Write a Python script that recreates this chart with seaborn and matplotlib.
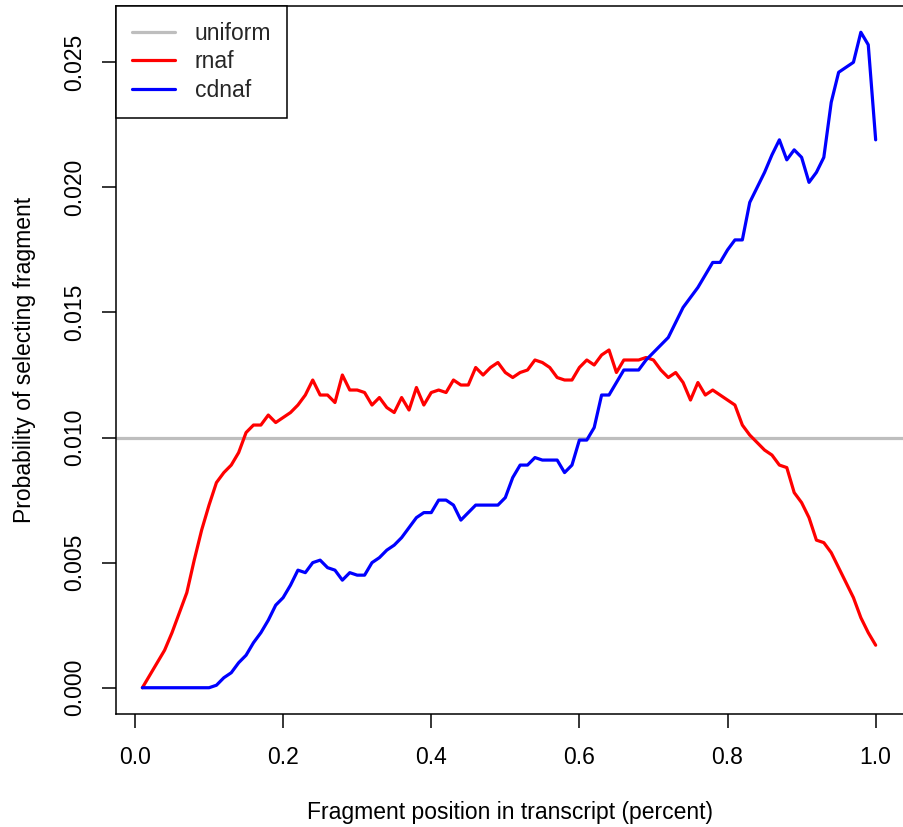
import numpy as np
import pandas as pd
import matplotlib
matplotlib.use("Agg")
import matplotlib.pyplot as plt
from matplotlib.lines import Line2D
import seaborn as sns

# ---- data ----
position = [i / 100 for i in range(1, 101)]
rnaf = [0.0000, 0.0005, 0.0010, 0.0015, 0.0022, 0.0030, 0.0038, 0.0051, 0.0063, 0.0073,
        0.0082, 0.0086, 0.0089, 0.0094, 0.0102, 0.0105, 0.0105, 0.0109, 0.0106, 0.0108,
        0.0110, 0.0113, 0.0117, 0.0123, 0.0117, 0.0117, 0.0114, 0.0125, 0.0119, 0.0119,
        0.0118, 0.0113, 0.0116, 0.0112, 0.0110, 0.0116, 0.0111, 0.0120, 0.0113, 0.0118,
        0.0119, 0.0118, 0.0123, 0.0121, 0.0121, 0.0128, 0.0125, 0.0128, 0.0130, 0.0126,
        0.0124, 0.0126, 0.0127, 0.0131, 0.0130, 0.0128, 0.0124, 0.0123, 0.0123, 0.0128,
        0.0131, 0.0129, 0.0133, 0.0135, 0.0126, 0.0131, 0.0131, 0.0131, 0.0132, 0.0131,
        0.0127, 0.0124, 0.0126, 0.0122, 0.0115, 0.0122, 0.0117, 0.0119, 0.0117, 0.0115,
        0.0113, 0.0105, 0.0101, 0.0098, 0.0095, 0.0093, 0.0089, 0.0088, 0.0078, 0.0074,
        0.0068, 0.0059, 0.0058, 0.0054, 0.0048, 0.0042, 0.0036, 0.0028, 0.0022, 0.0017]
cdnaf = [0.0000, 0.0000, 0.0000, 0.0000, 0.0000, 0.0000, 0.0000, 0.0000, 0.0000, 0.0000,
         0.0001, 0.0004, 0.0006, 0.0010, 0.0013, 0.0018, 0.0022, 0.0027, 0.0033, 0.0036,
         0.0041, 0.0047, 0.0046, 0.0050, 0.0051, 0.0048, 0.0047, 0.0043, 0.0046, 0.0045,
         0.0045, 0.0050, 0.0052, 0.0055, 0.0057, 0.0060, 0.0064, 0.0068, 0.0070, 0.0070,
         0.0075, 0.0075, 0.0073, 0.0067, 0.0070, 0.0073, 0.0073, 0.0073, 0.0073, 0.0076,
         0.0084, 0.0089, 0.0089, 0.0092, 0.0091, 0.0091, 0.0091, 0.0086, 0.0089, 0.0099,
         0.0099, 0.0104, 0.0117, 0.0117, 0.0122, 0.0127, 0.0127, 0.0127, 0.0131, 0.0134,
         0.0137, 0.0140, 0.0146, 0.0152, 0.0156, 0.0160, 0.0165, 0.0170, 0.0170, 0.0175,
         0.0179, 0.0179, 0.0194, 0.0200, 0.0206, 0.0213, 0.0219, 0.0211, 0.0215, 0.0212,
         0.0202, 0.0206, 0.0212, 0.0234, 0.0246, 0.0248, 0.0250, 0.0262, 0.0257, 0.0219]
uniform_level = 0.01
series_names = ["uniform", "rnaf", "cdnaf"]
x_ticks = [0.0, 0.2, 0.4, 0.6, 0.8, 1.0]
x_tick_labels = ["0.0", "0.2", "0.4", "0.6", "0.8", "1.0"]
y_ticks = [0.000, 0.005, 0.010, 0.015, 0.020, 0.025]
y_tick_labels = ["0.000", "0.005", "0.010", "0.015", "0.020", "0.025"]
x_label = "Fragment position in transcript (percent)"
y_label = "Probability of selecting fragment"

colors = {"uniform": "#BEBEBE", "rnaf": "#FF0000", "cdnaf": "#0000FF"}

# ---- style ----
sns.set_style("ticks")
plt.rcParams["font.family"] = ["Liberation Sans", "DejaVu Sans"]
FS = 16.5
LW = 2.3

df = pd.DataFrame({
    "position": position * 2,
    "prob": rnaf + cdnaf,
    "series": ["rnaf"] * len(rnaf) + ["cdnaf"] * len(cdnaf),
})

fig = plt.figure(figsize=(9.04, 8.27), dpi=100)
ax = fig.add_axes([116 / 904, 1 - 714 / 827, (905 - 116) / 904, (714 - 6) / 827])

ax.axhline(uniform_level, color=colors["uniform"], lw=LW, zorder=1)
sns.lineplot(data=df, x="position", y="prob", hue="series",
             palette={"rnaf": colors["rnaf"], "cdnaf": colors["cdnaf"]},
             hue_order=["rnaf", "cdnaf"], lw=LW, ax=ax, legend=False,
             estimator=None, sort=False, zorder=2)

ax.set_xlim(-0.0256, 1.0396)
ax.set_ylim(-0.00105, 0.02725)
ax.set_xticks(x_ticks)
ax.set_xticklabels(x_tick_labels)
ax.set_yticks(y_ticks)
ax.set_yticklabels(y_tick_labels, rotation=90, va="center")

for sp in ax.spines.values():
    sp.set_visible(True)
    sp.set_color("black")
    sp.set_linewidth(1.1)

ax.tick_params(axis="both", direction="out", length=10.4, width=1.1,
               color="black", labelsize=FS, labelcolor="black")
ax.tick_params(axis="x", pad=12.5)
ax.tick_params(axis="y", pad=11)

ax.set_xlabel(x_label, fontsize=FS, color="black")
ax.set_ylabel(y_label, fontsize=FS, color="black")
ax.xaxis.set_label_coords(0.5, -0.123)
ax.yaxis.set_label_coords(-0.102, 0.5)

handles = [Line2D([0], [0], color=colors[n], lw=LW) for n in series_names]
leg = ax.legend(handles, series_names, loc="upper left", bbox_to_anchor=(0, 1),
                borderaxespad=0, fontsize=FS, frameon=True, fancybox=False,
                framealpha=1, edgecolor="black", handlelength=1.88,
                handletextpad=0.87, labelspacing=0.25, borderpad=0.68)
leg.get_frame().set_linewidth(1.1)

fig.savefig("out.png", dpi=100)
